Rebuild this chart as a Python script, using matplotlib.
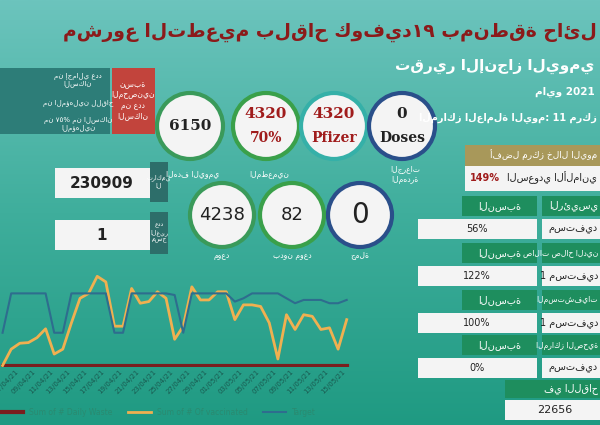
import matplotlib
matplotlib.use("Agg")
import matplotlib.pyplot as plt
import numpy as np
from matplotlib.patches import Circle, Rectangle
from matplotlib.colors import LinearSegmentedColormap

plt.rcParams['font.family'] = ['DejaVu Sans']

dates = ["05/04/21","06/04/21","07/04/21","08/04/21","09/04/21","10/04/21","11/04/21","12/04/21","13/04/21","14/04/21",
         "15/04/21","16/04/21","17/04/21","18/04/21","19/04/21","20/04/21","21/04/21","22/04/21","23/04/21","24/04/21",
         "25/04/21","26/04/21","27/04/21","28/04/21","29/04/21","30/04/21","01/05/21","02/05/21","03/05/21","04/05/21",
         "05/05/21","06/05/21","07/05/21","08/05/21","09/05/21","10/05/21","11/05/21","12/05/21","13/05/21","14/05/21","15/05/21"]
vaccinated = [0,1000,1360,1400,1700,2240,700,1000,2600,4100,4400,5440,5100,2400,2400,4700,3800,3900,4500,4100,
              1600,2400,4800,4000,4000,4500,4500,2800,3700,3700,3600,2600,400,3100,2200,3100,3000,2200,2300,1000,2800]
target = [2000,4400,4400,4400,4400,4400,2000,2000,4400,4400,4400,4400,4400,2000,2000,4400,4400,4400,4400,4400,
          4300,2000,4400,4400,4400,4400,4400,3900,4100,4400,4400,4400,4400,4100,3800,4000,4000,4000,3800,3800,4000]
waste = [0]*41

fig = plt.figure(figsize=(6, 4.25), dpi=100)
bg = fig.add_axes([0, 0, 1, 1])
grad = np.linspace(0, 1, 256)[:, None]
cm = LinearSegmentedColormap.from_list("g", ["#6cc4bd", "#3fae9c", "#1f9a82"])
bg.imshow(grad, aspect='auto', cmap=cm, extent=[0, 600, 425, 0])
bg.set_xlim(0, 600); bg.set_ylim(425, 0); bg.axis('off')

def T(x, y, s, **k):
    k.setdefault('ha', 'center'); k.setdefault('va', 'center')
    bg.text(x, y, s, **k)

T(330, 32, "مشروع التطعيم بلقاح كوفيد١٩ بمنطقة حائل", color="#8b1a1a", fontsize=13.5, fontweight='bold')
T(495, 66, "تقرير الإنجاز اليومي", color="white", fontsize=11, fontweight='bold')
T(565, 92, "مايو 2021", color="white", fontsize=7.5, fontweight='bold')
T(597, 118, "المراكز العاملة اليوم: 11 مركز", color="white", fontsize=7, fontweight='bold', ha='right')

top = [(190, 126, "6150", "", "#3a9a5a", "الهدف اليومي"),
       (266, 126, "4320", "70%", "#3aa04a", "المطعمين"),
       (334, 126, "4320", "Pfizer", "#35b0a8", ""),
       (402, 126, "0", "Doses", "#2a4f8a", "الجرعات\nالمهدرة")]
for x, y, a, b, ec, lab in top:
    bg.add_patch(Circle((x, y), 33, facecolor="#f4f4f4", edgecolor=ec, lw=3))
    col = "#222" if a in ("6150", "0") else "#a01c1c"
    if b:
        T(x, y - 12, a, color=col, fontsize=11, fontweight='bold', family='DejaVu Serif')
        T(x, y + 12, b, color="#a01c1c" if b != "Doses" else "#222", fontsize=10, fontweight='bold', family='DejaVu Serif')
    else:
        T(x, y, a, color=col, fontsize=11, fontweight='bold', family='DejaVu Serif')
    if lab:
        T(x + 3, y + 48, lab, color="white", fontsize=5.5)
for x, a, ec, lab in [(222, "4238", "#3a9a5a", "موعد"), (292, "82", "#3aa04a", "بدون موعد"), (360, "0", "#2a4f8a", "جملة")]:
    bg.add_patch(Circle((x, 215), 32, facecolor="#f4f4f4", edgecolor=ec, lw=3))
    T(x, 215, a, color="#222", fontsize=13 if a != "0" else 20)
    T(x, 255, lab, color="white", fontsize=5.5)

bg.add_patch(Rectangle((0, 68), 110, 66, facecolor="#2d7d78"))
bg.add_patch(Rectangle((112, 68), 43, 66, facecolor="#c2443c"))
T(133, 100, "نسبة\nالمحصنين\nمن عدد\nالسكان", color="white", fontsize=5.5)
for yy, s in [(80, "من إجمالي عدد\nالسكان"), (103, "من المؤهلين للقاح"), (124, "من ٧٥% من السكان\nالمؤهلين")]:
    T(78, yy, s, color="white", fontsize=5)
bg.add_patch(Rectangle((55, 168), 95, 30, facecolor="#f4f4f4"))
bg.add_patch(Rectangle((150, 162), 18, 40, facecolor="#2d6e6a"))
T(159, 181, "تراكمي\nال", color="white", fontsize=4.5)
T(102, 183, "230909", color="#222", fontsize=11, fontweight='bold')
bg.add_patch(Rectangle((55, 220), 95, 30, facecolor="#f4f4f4"))
bg.add_patch(Rectangle((150, 212), 18, 42, facecolor="#2d6e6a"))
T(102, 235, "1", color="#222", fontsize=11, fontweight='bold')
T(159, 233, "عدد\nالغير\nمسج", color="white", fontsize=4.5)

bg.add_patch(Rectangle((465, 145), 135, 21, facecolor="#a8985a"))
T(597, 155, "أفضل مركز خلال اليوم", color="white", fontsize=6.5, ha='right')
bg.add_patch(Rectangle((465, 166), 135, 25, facecolor="#f4f4f4"))
T(470, 178, "149%", color="#a01c1c", fontsize=7, fontweight='bold', ha='left')
T(597, 178, "السعودي الألماني", color="#222", fontsize=7, ha='right')
rows = [(196, "56%", "الرئيسي", "مستفيد"), (243, "122%", "صالات صلاح الدين", "1 مستفيد"),
        (290, "100%", "المستشفيات", "1 مستفيد"), (335, "0%", "المراكز الصحية", "مستفيد")]
for y, pct, h, s in rows:
    bg.add_patch(Rectangle((462, y), 75, 20, facecolor="#1e8e5e"))
    bg.add_patch(Rectangle((542, y), 58, 20, facecolor="#1e8e5e"))
    T(500, y + 10, "النسبة", color="white", fontsize=7)
    T(598, y + 10, h, color="white", fontsize=5.5 if len(h) > 8 else 7, ha='right')
    bg.add_patch(Rectangle((418, y + 23), 119, 20, facecolor="#f4f4f4"))
    bg.add_patch(Rectangle((542, y + 23), 58, 20, facecolor="#f4f4f4"))
    T(477, y + 33, pct, color="#222", fontsize=7)
    T(598, y + 33, s, color="#222", fontsize=7, ha='right')
bg.add_patch(Rectangle((505, 380), 95, 18, facecolor="#1e8e5e"))
T(598, 389, "في اللقاح", color="white", fontsize=7, ha='right')
bg.add_patch(Rectangle((505, 400), 95, 20, facecolor="#f4f4f4"))
T(555, 410, "22656", color="#222", fontsize=8)

ax = fig.add_axes([0.0, 0.136, 0.585, 0.22])
ax.set_facecolor('none')
x = np.arange(len(dates))
ax.plot(x, waste, color="#7a1e1e", lw=3, label="Sum of # Daily Waste")
ax.plot(x, vaccinated, color="#f0b050", lw=2, label="Sum of # Of vaccinated")
ax.plot(x, target, color="#2e6d8e", lw=1.5, label="Target")
ax.set_xlim(-0.3, 40.5); ax.set_ylim(-100, 5600)
ax.set_xticks(x[2::2]); ax.set_xticklabels(dates[2::2], rotation=45, ha='right', fontsize=5, color="#1a5a50")
ax.set_yticks([])
for s in ax.spines.values(): s.set_visible(False)
ax.tick_params(length=0, pad=1)
ax.legend(loc='upper center', bbox_to_anchor=(0.45, -0.36), ncol=3, frameon=False, fontsize=5.5,
          labelcolor="#2a8a70", handlelength=3)
fig.savefig("out.png", dpi=100)
